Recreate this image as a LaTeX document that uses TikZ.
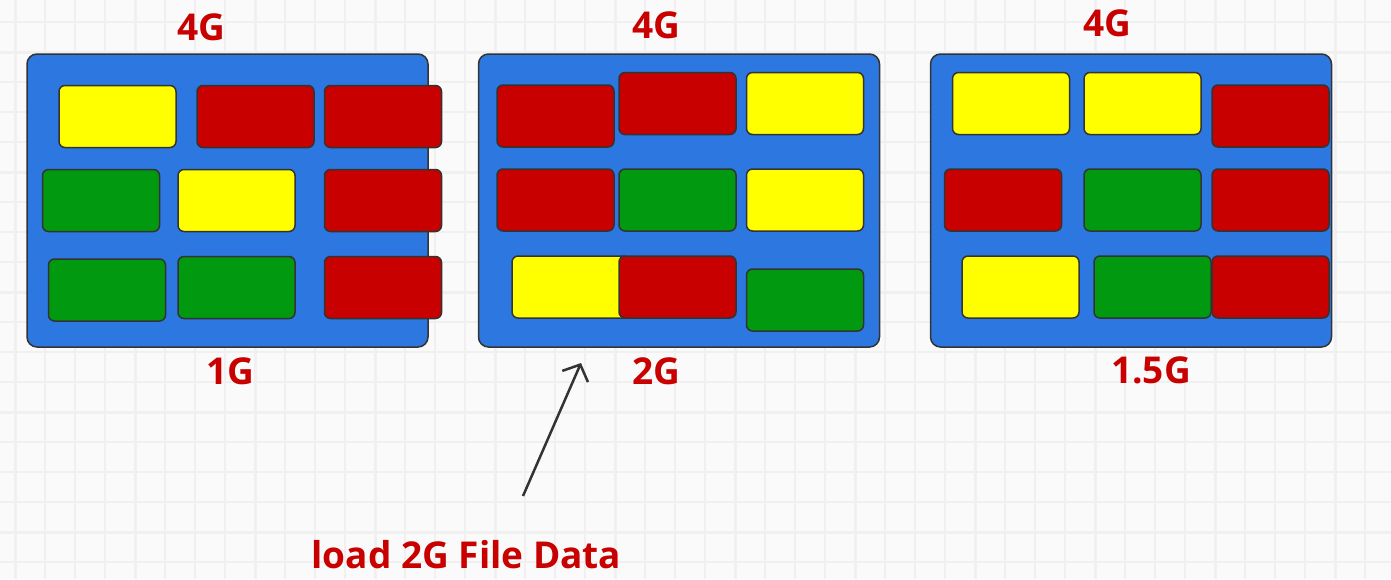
\documentclass[tikz,border=0pt]{standalone}
\usepackage{fontspec}
\setmainfont{Open Sans}
\usetikzlibrary{arrows.meta}
\definecolor{boxblue}{RGB}{44,120,224}
\definecolor{dred}{RGB}{200,0,0}
\definecolor{dyel}{RGB}{255,255,0}
\definecolor{dgreen}{RGB}{0,153,16}
\definecolor{edge}{RGB}{51,51,51}
\definecolor{paper}{RGB}{250,250,250}
\definecolor{gridln}{RGB}{240,240,240}

\begin{document}
\begin{tikzpicture}[x=1pt, y=-1pt, >={Straight Barb[length=13pt,width=28pt]},
	disk/.style={draw=edge, line width=1.5pt, fill=boxblue, rounded corners=10pt,
		minimum width=401pt, minimum height=293pt, inner sep=0pt},
	blk/.style={draw=edge, line width=1.5pt, rounded corners=6pt,
		minimum width=117pt, minimum height=62pt, inner sep=0pt},
	lbl/.style={text=dred, font=\fontsize{37}{40}\selectfont\bfseries, anchor=base, inner sep=0pt}]
		% paper and grid
		\fill[paper] (0,0) rectangle (1391,579);
		\useasboundingbox (0,0) rectangle (1391,579);
		\foreach \x in {15,45,...,1385} \draw[gridln, line width=1.5pt] (\x,0) -- (\x,579);
		\foreach \y in {22,52,...,562} \draw[gridln, line width=1.5pt] (0,\y) -- (1391,\y);
		\foreach \x in {15,135,...,1335} \draw[gridln, line width=3pt] (\x,0) -- (\x,579);
		\foreach \y in {52,172,...,532} \draw[gridln, line width=3pt] (0,\y) -- (1391,\y);
		% three disks
		\node[disk] (disk1) at (227.5,200.5) {};
		\node[disk] (disk2) at (679,200.5) {};
		\node[disk] (disk3) at (1131,200.5) {};
		% blocks of disk 1
		\foreach \n/\c/\x/\y in {a/dyel/117.5/116.5, b/dred/255.5/116.5, c/dred/383/116.5,
			d/dgreen/101/200.5, e/dyel/236.5/200.5, f/dred/383/200.5,
			g/dgreen/107/290, h/dgreen/236.5/287.5, i/dred/383/287.5}
			\node[blk, fill=\c] (one\n) at (\x,\y) {};
		% blocks of disk 2
		\foreach \n/\c/\x/\y in {a/dred/555.5/116, b/dred/677.5/103.5, c/dyel/805/103.5,
			d/dred/555.5/200, e/dgreen/677.5/200, f/dyel/805/200,
			g/dyel/570.5/287, h/dred/677.5/287, i/dgreen/805/300}
			\node[blk, fill=\c] (two\n) at (\x,\y) {};
		% blocks of disk 3
		\foreach \n/\c/\x/\y in {a/dyel/1011/103.5, b/dyel/1142.5/103.5, c/dred/1270.5/116,
			d/dred/1003/200, e/dgreen/1142.5/200, f/dred/1270.5/200,
			g/dyel/1020.5/287, h/dgreen/1152.5/287, i/dred/1270.5/287}
			\node[blk, fill=\c] (three\n) at (\x,\y) {};
		% sizes
		\node[lbl] (cap1) at (201,40) {4G};
		\node[lbl] (cap2) at (656,38) {4G};
		\node[lbl] (cap3) at (1107,36) {4G};
		\node[lbl] (used1) at (230,384) {1G};
		\node[lbl] (used2) at (656,384) {2G};
		\node[lbl] (used3) at (1151,383) {1.5G};
		% load
		\node[lbl] (load) at (466.5,568) {load 2G File Data};
		\coordinate (tail) at (523,496);
		\coordinate (tip) at (581,363);
		\draw[->, edge, line width=2.5pt] (tail) -- (tip);
	\end{tikzpicture}
\end{document}
